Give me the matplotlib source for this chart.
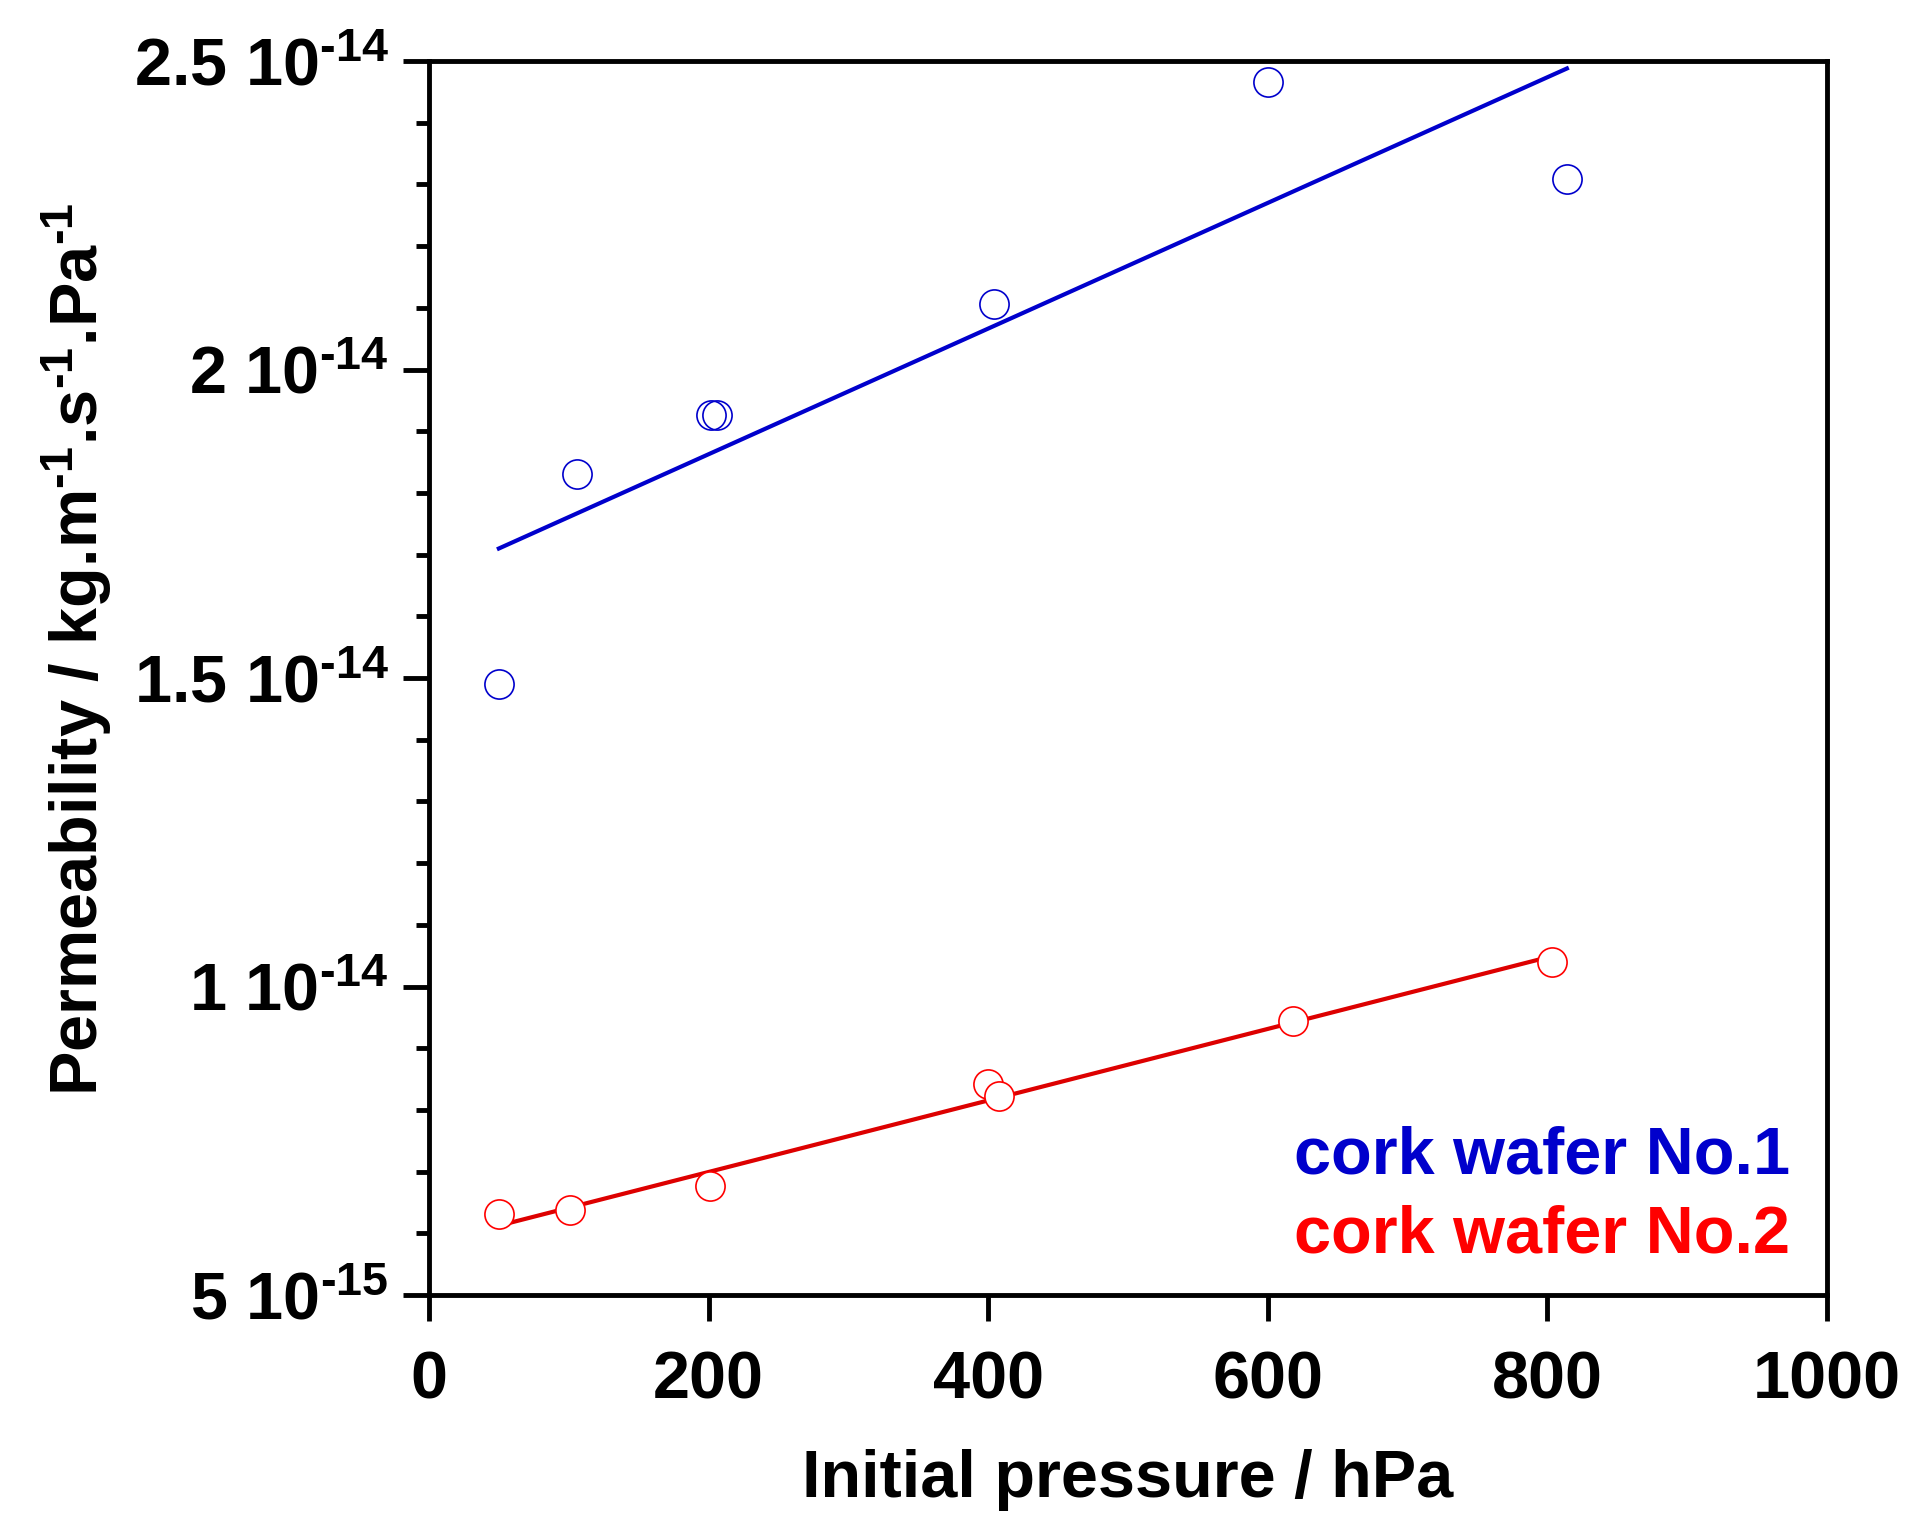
import matplotlib
matplotlib.use("Agg")
import matplotlib.pyplot as plt
from matplotlib.ticker import MultipleLocator, FixedLocator, FixedFormatter

plt.rcParams['font.family'] = ['Liberation Sans', 'DejaVu Sans']
plt.rcParams['font.weight'] = 'bold'
plt.rcParams['mathtext.fontset'] = 'custom'
plt.rcParams['mathtext.rm'] = 'Liberation Sans:bold'
plt.rcParams['mathtext.it'] = 'Liberation Sans:bold'
plt.rcParams['mathtext.bf'] = 'Liberation Sans:bold'
plt.rcParams['mathtext.default'] = 'rm'

# cork wafer No.1 (blue)
x1 = [50, 106, 202, 206, 404, 600, 814]
y1 = [1.49e-14, 1.83e-14, 1.927e-14, 1.927e-14, 2.107e-14, 2.466e-14, 2.309e-14]
fit1_x = [50, 814]
fit1_y = [1.710e-14, 2.488e-14]

# cork wafer No.2 (red)
x2 = [50, 101, 201, 400, 408, 618, 803]
y2 = [0.632e-14, 0.638e-14, 0.676e-14, 0.842e-14, 0.822e-14, 0.944e-14, 1.039e-14]
fit2_x = [50, 803]
fit2_y = [0.6125e-14, 1.049e-14]

ytick_vals = [5e-15, 1e-14, 1.5e-14, 2e-14, 2.5e-14]
ytick_labels = [r'5 10$^{\text{-}15}$', r'1 10$^{\text{-}14}$', r'1.5 10$^{\text{-}14}$',
                r'2 10$^{\text{-}14}$', r'2.5 10$^{\text{-}14}$']

blue = '#0000CC'
red = '#FF0000'

fig = plt.figure(figsize=(19.09, 15.27), dpi=100)
ax = fig.add_axes([0.2247, 0.1519, 0.957 - 0.2247, 0.960 - 0.1519])

ax.plot(fit1_x, fit1_y, color=blue, lw=3, zorder=2)
ax.plot(x1, y1, 'o', ms=21, mfc='none', mec=blue, mew=1.2, zorder=3)
ax.plot(fit2_x, fit2_y, color='#DD0000', lw=3, zorder=2)
ax.plot(x2, y2, 'o', ms=21, mfc='white', mec=red, mew=1.2, zorder=3)

ax.set_xlim(0, 1000)
ax.set_ylim(5e-15, 2.5e-14)
ax.xaxis.set_major_locator(MultipleLocator(200))
ax.yaxis.set_major_locator(FixedLocator(ytick_vals))
ax.yaxis.set_major_formatter(FixedFormatter(ytick_labels))
ax.yaxis.set_minor_locator(MultipleLocator(1e-15))

for s in ax.spines.values():
    s.set_linewidth(3.5)
ax.tick_params(axis='both', which='major', direction='out', length=19, width=3.5,
               labelsize=48, top=False, right=False)
ax.tick_params(axis='x', pad=21)
ax.tick_params(axis='y', pad=10)
ax.tick_params(axis='y', which='minor', direction='out', length=9.5, width=3.5, right=False)

ax.set_xlabel('Initial pressure / hPa', fontsize=48, fontweight='bold', labelpad=26)
ax.set_ylabel(r'Permeability / kg.m$^{\text{-}1}$.s$^{\text{-}1}$.Pa$^{\text{-}1}$',
              fontsize=48, fontweight='bold')
ax.yaxis.set_label_coords(-0.225, 0.523)

ax.text(0.9735, 0.0989, 'cork wafer No.1', transform=ax.transAxes, ha='right',
        va='baseline', color=blue, fontsize=48, fontweight='bold')
ax.text(0.9735, 0.0348, 'cork wafer No.2', transform=ax.transAxes, ha='right',
        va='baseline', color=red, fontsize=48, fontweight='bold')

fig.savefig('out.png', dpi=100)
